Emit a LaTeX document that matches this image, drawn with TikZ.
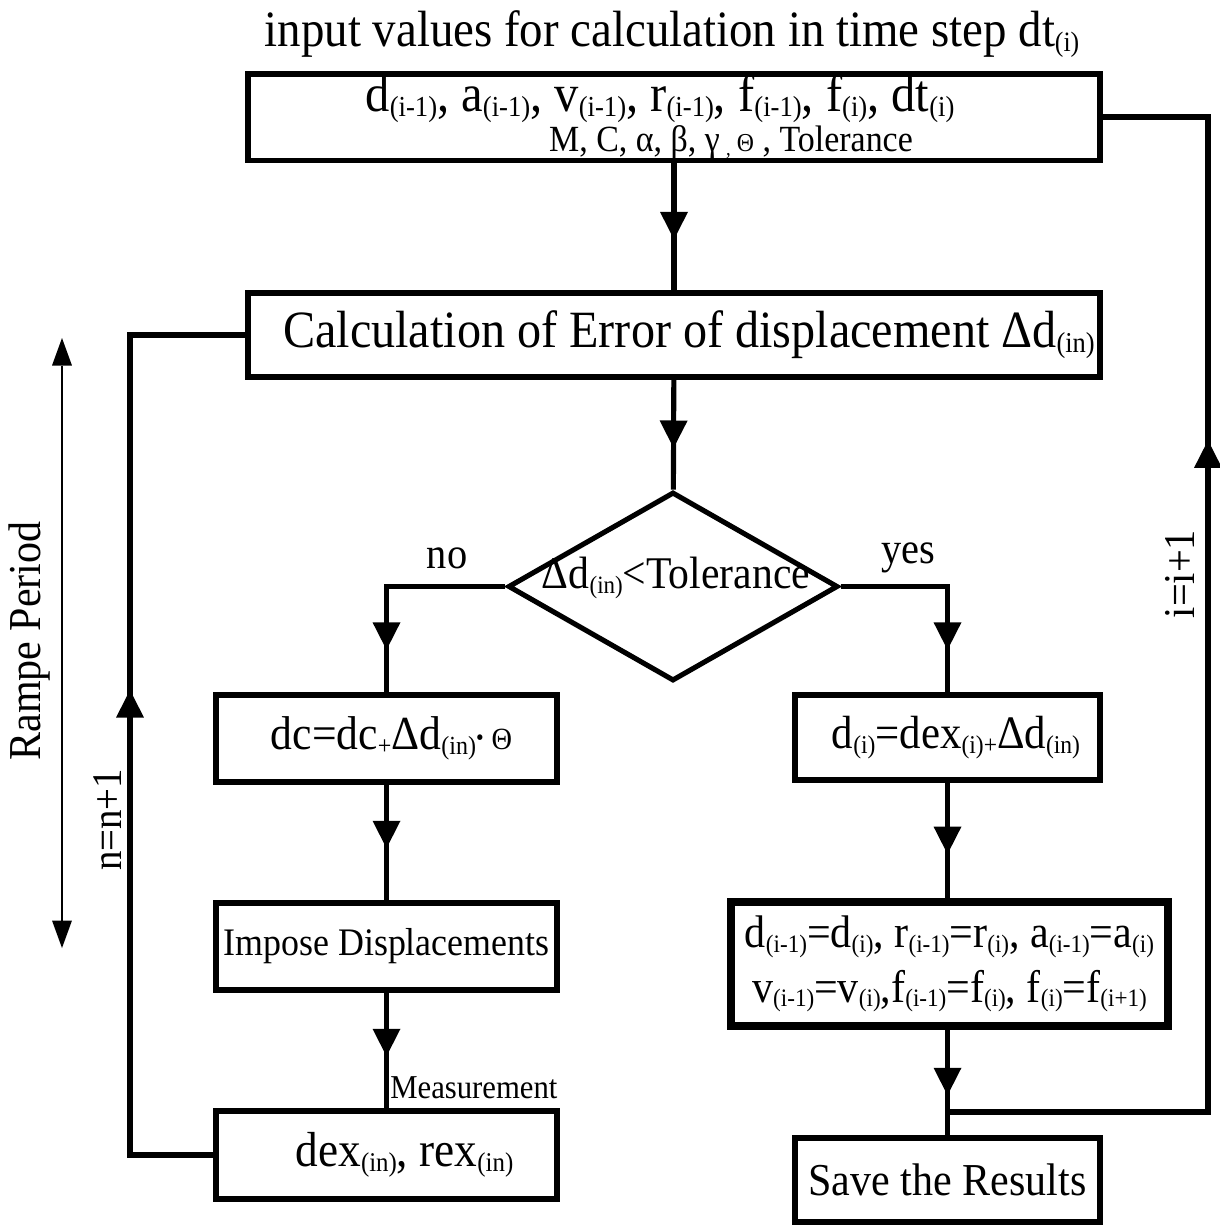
\documentclass[tikz,border=0pt]{standalone}
\usepackage{fontspec}
\setmainfont[FakeStretch=0.92]{Liberation Serif}
\usepackage{graphicx}
\usetikzlibrary{shapes.geometric,arrows.meta,decorations.markings}
\newcommand\Sb[1]{\raisebox{-0.1em}{\scalebox{0.55}{#1}}}
\newcommand\fs[2]{\fontsize{#1pt}{#2pt}\selectfont}
\tikzset{
  box/.style={draw, line width=3.4pt, rectangle, inner sep=0pt, align=center},
  conn/.style={line width=2.9pt},
  tipA/.tip={Triangle[width=0.56cm,length=0.55cm,line width=0pt]},
  tipB/.tip={Triangle[width=0.4cm,length=0.55cm,line width=0pt]},
  midarr/.style={postaction={decorate,decoration={markings,mark=at position #1 with {\arrow{tipA}}}}},
}
\begin{document}
\begin{tikzpicture}[x=0.02cm,y=-0.02cm]
\useasboundingbox (0,0) rectangle (1220,1228);
% title
\node[font=\fs{29}{34}] (title) at (672,34) {input values for calculation in time step dt\Sb{(i)}};
% boxes
\node[box, font=\fs{21}{23}, minimum width=17.04cm, minimum height=1.74cm] (top) at (674,117)
  {{\fs{30}{30}d\Sb{(i-1)}, a\Sb{(i-1)}, v\Sb{(i-1)}, r\Sb{(i-1)}, f\Sb{(i-1)}, f\Sb{(i)}, dt\Sb{(i)}\hspace*{0.56cm}}\\
   \hspace*{2.28cm}M, C, α, β, γ\,\Sb{,}\,\scalebox{0.7}{Θ} , Tolerance};
\node[box, font=\fs{29.8}{34}, minimum width=17.04cm, minimum height=1.68cm] (box2) at (674,335)
  {\hspace*{0.6cm}Calculation of Error of displacement Δd\Sb{(in)}};
\node[draw, diamond, line width=2.9pt, minimum width=6.6cm, minimum height=3.78cm, inner sep=0pt] (dia) at (673,586.5) {};
\node[font=\fs{25.8}{28}] (diatext) at (676,578) {Δd\Sb{(in)}<Tolerance};
\node[box, font=\fs{27}{30}, minimum width=6.82cm, minimum height=1.74cm] (dc) at (386.5,738.5)
  {\hspace*{0.2cm}dc=dc\Sb{+}Δd\Sb{(in)}\raisebox{0.1em}{\scalebox{0.5}{•}}\,\scalebox{0.65}{Θ}};
\node[box, font=\fs{22.2}{24}, minimum width=6.82cm, minimum height=1.74cm] (impose) at (386.5,946.5)
  {Impose Displacements};
\node[box, font=\fs{28}{30}, minimum width=6.82cm, minimum height=1.76cm] (dex) at (386.5,1155)
  {\hspace*{0.72cm}dex\Sb{(in)}, rex\Sb{(in)}};
\node[box, font=\fs{26.5}{30}, minimum width=6.1cm, minimum height=1.7cm] (di) at (947.5,737.5)
  {\hspace*{0.34cm}d\Sb{(i)}=dex\Sb{(i)+}Δd\Sb{(in)}};
\node[box, font=\fs{26}{31}, line width=5pt, minimum width=8.74cm, minimum height=2.48cm] (two) at (949.5,964)
  {d\Sb{(i-1)}=d\Sb{(i)}, r\Sb{(i-1)}=r\Sb{(i)}, a\Sb{(i-1)}=a\Sb{(i)}\\
   v\Sb{(i-1)}=v\Sb{(i)},f\Sb{(i-1)}=f\Sb{(i)}, f\Sb{(i)}=f\Sb{(i+1)}};
\node[box, font=\fs{26}{30}, minimum width=6.1cm, minimum height=1.68cm] (save) at (947.5,1180)
  {Save the Results};
% labels
\node[font=\fs{25}{28}] (no) at (447,558) {no};
\node[font=\fs{25}{28}] (yes) at (908,558) {yes};
\node[anchor=west, inner sep=0pt, font=\fs{19}{22}] (meas) at (390,1088) {Measurement};
\node[rotate=90, font=\fs{26}{30}] (ramp) at (30,641) {Rampe Period};
\node[rotate=90, font=\fs{24}{28}] (nlab) at (108,820) {n=n+1};
\node[rotate=90, font=\fs{25}{28}] (ilab) at (1180,574) {i=i+1};
% coordinates
\coordinate (jn) at (947.5,1112);
\coordinate (rc) at (1208,1112);
\coordinate (lc) at (130,1155);
\coordinate (rp1) at (62,338);
\coordinate (rp2) at (62,948);
% connectors
\draw[conn, midarr=0.6] (top) -- (box2);
\draw[conn, midarr=0.62] (box2) -- (dia);
\draw[conn] (dia.west) -| (dc.north);
\draw[conn, midarr=0.6] (dia.west -| dc.north) -- (dc.north);
\draw[conn] (dia.east) -| (di.north);
\draw[conn, midarr=0.6] (dia.east -| di.north) -- (di.north);
\draw[conn, midarr=0.55] (dc) -- (impose);
\draw[conn, midarr=0.55] (impose) -- (dex);
\draw[conn, midarr=0.62] (di.south) -- (di.south |- two.north);
\draw[conn, midarr=0.62] (two.south -| save) -- (save.north);
\draw[conn] (jn) -- (rc) -- (rc |- top.east) -- (top.east);
\draw[conn, midarr=0.675] (rc) -- (rc |- top.east);
\draw[conn] (dex.west) -- (lc) -- (lc |- box2.west) -- (box2.west);
\draw[conn, midarr=0.567] (lc) -- (lc |- box2.west);
\draw[line width=1.2pt, tipB-tipB] (rp1) -- (rp2);
\end{tikzpicture}
\end{document}
